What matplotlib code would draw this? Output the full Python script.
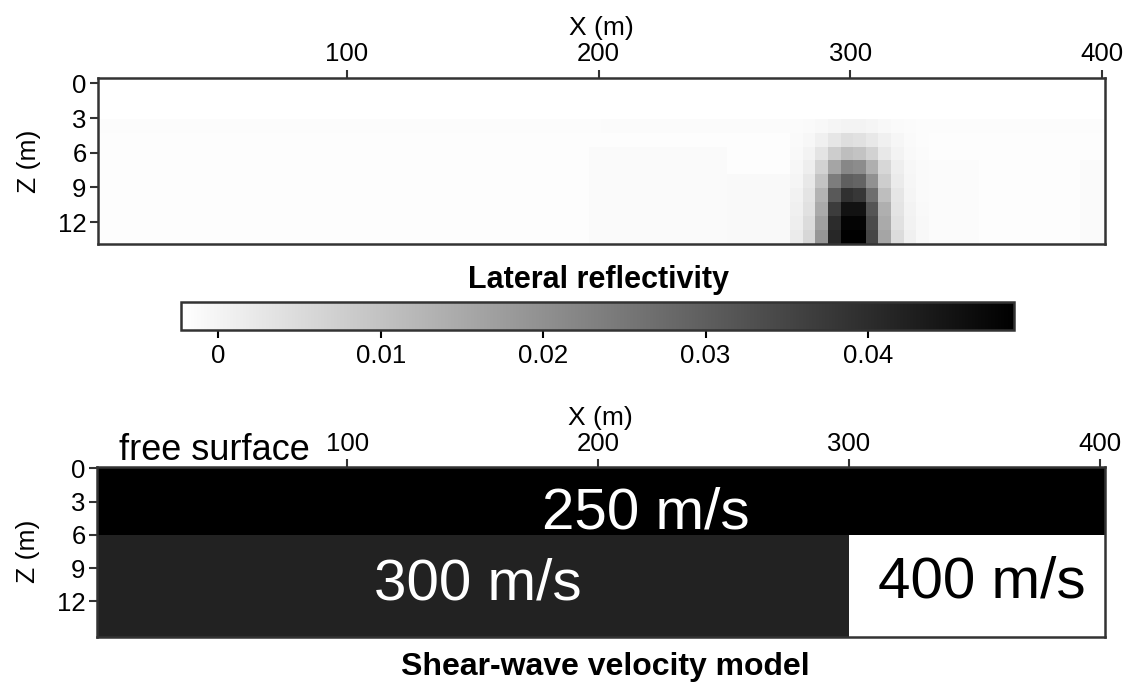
import numpy as np
import matplotlib
matplotlib.use('Agg')
import matplotlib.pyplot as plt
from matplotlib.colors import ListedColormap, BoundaryNorm

plt.rcParams['font.family'] = ['Liberation Sans', 'DejaVu Sans']

# ---- lateral reflectivity: 80 columns of 5 m, 12 rows of 1.2 m ----
refl_x = (1.0, 401.0)
refl_z = (-0.5, 13.9)
n_x, n_z = 80, 12

# background level of each depth row
bg_rows = [-0.0021, -0.0021, -0.0021, -0.0015, -0.0017, -0.0017,
           -0.0017, -0.0017, -0.0017, -0.0017, -0.0017, -0.0017]

# anomaly below x = 300 m (rows 3-11, columns 55-65)
blob_row0, blob_col0 = 3, 55
blob = [
    [-0.0014, -0.0012, -0.0008, -0.0002, 0.0002, 0.0002, -0.0002, -0.0008, -0.0012, -0.0014, -0.0016],
    [-0.0012, -0.0006, 0.0008, 0.0028, 0.0044, 0.0038, 0.0024, 0.0008, -0.0004, -0.0012, -0.0016],
    [-0.0010, 0.0002, 0.0032, 0.0078, 0.0108, 0.0098, 0.0068, 0.0024, 0.0002, -0.0010, -0.0014],
    [-0.0006, 0.0012, 0.0068, 0.0158, 0.0219, 0.0209, 0.0138, 0.0058, 0.0012, -0.0006, -0.0012],
    [-0.0002, 0.0024, 0.0098, 0.0239, 0.0299, 0.0289, 0.0199, 0.0078, 0.0018, -0.0004, -0.0012],
    [0.0004, 0.0032, 0.0128, 0.0309, 0.0390, 0.0379, 0.0269, 0.0108, 0.0028, -0.0002, -0.0012],
    [0.0008, 0.0038, 0.0148, 0.0369, 0.0450, 0.0450, 0.0319, 0.0138, 0.0032, 0.0002, -0.0010],
    [0.0012, 0.0048, 0.0168, 0.0400, 0.0480, 0.0480, 0.0339, 0.0148, 0.0038, 0.0004, -0.0008],
    [0.0018, 0.0058, 0.0189, 0.0410, 0.0490, 0.0490, 0.0349, 0.0158, 0.0048, 0.0008, -0.0008],
]

# weak patches: (first row, last row, first col, last col, value)
patches = [
    (3, 3, 40, 54, -0.0013),
    (5, 11, 39, 49, -0.0012),
    (7, 11, 50, 54, -0.0010),
    (6, 11, 66, 69, -0.0013),
    (6, 11, 78, 79, -0.0012),
]

refl_min, refl_max = -0.0023, 0.049
cbar_ticks = [0, 0.01, 0.02, 0.03, 0.04]
cbar_labels = ['0', '0.01', '0.02', '0.03', '0.04']

# ---- shear-wave velocity model ----
model_x = [0.0, 300.0, 402.0]
model_z = [-0.15, 6.0, 15.2]
vs = [[250, 250],
      [300, 400]]
vs_colors = ['#000000', '#222222', '#ffffff']
vs_bounds = [225, 275, 350, 450]
vs_labels = [(219, 5.4, '250 m/s', 'white'),
             (152, 11.85, '300 m/s', 'white'),
             (353, 11.7, '400 m/s', 'black')]

x_ticks = [100, 200, 300, 400]
z_ticks = [0, 3, 6, 9, 12]

refl = np.tile(np.array(bg_rows)[:, None], (1, n_x))
for r0, r1, c0, c1, val in patches:
    refl[r0:r1 + 1, c0:c1 + 1] = val
b = np.array(blob)
refl[blob_row0:blob_row0 + b.shape[0], blob_col0:blob_col0 + b.shape[1]] = b

fig = plt.figure(figsize=(11.4, 6.86), dpi=100)
tick_fs = 18.5
spine_c = '#333333'


def style_axes(ax):
    ax.xaxis.set_ticks_position('top')
    ax.xaxis.set_label_position('top')
    ax.set_xticks(x_ticks)
    ax.set_yticks(z_ticks)
    ax.tick_params(axis='x', which='both', top=True, bottom=False, length=6,
                   width=1.5, labelsize=tick_fs, pad=2, color=spine_c)
    ax.tick_params(axis='y', length=6, width=1.5, labelsize=tick_fs, pad=2,
                   color=spine_c)
    ax.set_xlabel('X (m)', fontsize=19, labelpad=5)
    ax.set_ylabel('Z (m)', fontsize=19, labelpad=12)
    for s in ax.spines.values():
        s.set_linewidth(1.8)
        s.set_color(spine_c)


# top: reflectivity image
ax1 = fig.add_axes([0.0857, 0.644, 0.8833, 0.243])
im = ax1.imshow(refl, cmap='gray_r', vmin=refl_min, vmax=refl_max,
                extent=(refl_x[0], refl_x[1], refl_z[1], refl_z[0]),
                aspect='auto', interpolation='nearest')
ax1.set_xlim(refl_x)
ax1.set_ylim(refl_z[1], refl_z[0])
style_axes(ax1)

fig.text(0.525, 0.592, 'Lateral reflectivity', ha='center', va='center',
         fontsize=22, fontweight='bold')

cax = fig.add_axes([0.1588, 0.519, 0.7307, 0.041])
cb = fig.colorbar(im, cax=cax, orientation='horizontal', ticks=cbar_ticks)
cb.ax.set_xticklabels(cbar_labels)
cb.ax.tick_params(labelsize=tick_fs, length=6, width=1.5, pad=4)
cb.outline.set_linewidth(1.8)
cb.outline.set_edgecolor(spine_c)

# bottom: velocity model
ax2 = fig.add_axes([0.0848, 0.0719, 0.8842, 0.2478])
ax2.pcolormesh(model_x, model_z, np.array(vs),
               cmap=ListedColormap(vs_colors),
               norm=BoundaryNorm(vs_bounds, len(vs_colors)))
ax2.set_xlim(model_x[0], model_x[-1])
ax2.set_ylim(model_z[-1], model_z[0])
style_axes(ax2)
for x, z, txt, c in vs_labels:
    ax2.text(x, z, txt, color=c, fontsize=42, ha='center', va='baseline')
ax2.text(0.022, 1.039, 'free surface', transform=ax2.transAxes,
         fontsize=26, ha='left', va='baseline')

fig.text(0.531, 0.028, 'Shear-wave velocity model', ha='center',
         va='center', fontsize=23, fontweight='bold')

fig.savefig('out.png', dpi=100)
